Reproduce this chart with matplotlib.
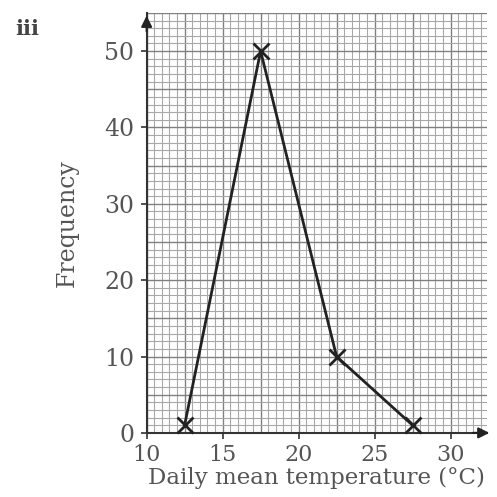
import matplotlib
matplotlib.use("Agg")
import matplotlib.pyplot as plt
import numpy as np

temps = [12.5, 17.5, 22.5, 27.5]
freq = [1, 50, 10, 1]
xticks = [10, 15, 20, 25, 30]
yticks = [0, 10, 20, 30, 40, 50]

plt.rcParams['font.family'] = ['DejaVu Serif']
fig = plt.figure(figsize=(4.97, 4.97), dpi=100)
ax = fig.add_axes([0.295, 0.129, 0.685, 0.845])
xmin, xmax, ymin, ymax = 10, 32.4, 0, 55
ax.set_xlim(xmin, xmax)
ax.set_ylim(ymin, ymax)

# graph paper grid
for x in np.arange(10, xmax + 0.01, 0.5):
    major = abs((x - 10) / 2.5 - round((x - 10) / 2.5)) < 1e-6
    ax.axvline(x, color='#808080' if major else '#a8a8a8', lw=1.0 if major else 0.8, zorder=0)
for y in np.arange(0, ymax + 0.01, 1):
    major = int(round(y)) % 5 == 0
    ax.axhline(y, color='#808080' if major else '#a8a8a8', lw=1.0 if major else 0.8, zorder=0)

ax.plot(temps, freq, color='#222222', lw=2, marker='x', ms=11, mew=2, zorder=3, clip_on=False)

for s in ['top', 'right']:
    ax.spines[s].set_visible(False)
for s in ['left', 'bottom']:
    ax.spines[s].set_color('#333333')
    ax.spines[s].set_linewidth(1.5)

ax.annotate('', xy=(1.015, 0), xycoords='axes fraction', xytext=(0.95, 0),
            arrowprops=dict(arrowstyle='-|>', color='#222222', lw=1.5, mutation_scale=16))
ax.annotate('', xy=(0, 1.0), xycoords='axes fraction', xytext=(0, 0.95),
            arrowprops=dict(arrowstyle='-|>', color='#222222', lw=1.5, mutation_scale=16))

ax.set_xticks(xticks)
ax.set_yticks(yticks)
ax.tick_params(direction='out', length=4, width=1.2, colors='#333333', labelcolor='#555555', labelsize=17)
ax.tick_params(axis='x', pad=4, labelsize=16)
ax.tick_params(axis='y', pad=5)
ax.set_xlabel('Daily mean temperature (°C)', fontsize=16.5, color='#555555', labelpad=1)
ax.set_ylabel('Frequency', fontsize=17, color='#555555', labelpad=18)
fig.text(0.03, 0.93, 'iii', fontsize=15, fontweight='bold', color='#444444')

fig.savefig('out.png', dpi=100)
